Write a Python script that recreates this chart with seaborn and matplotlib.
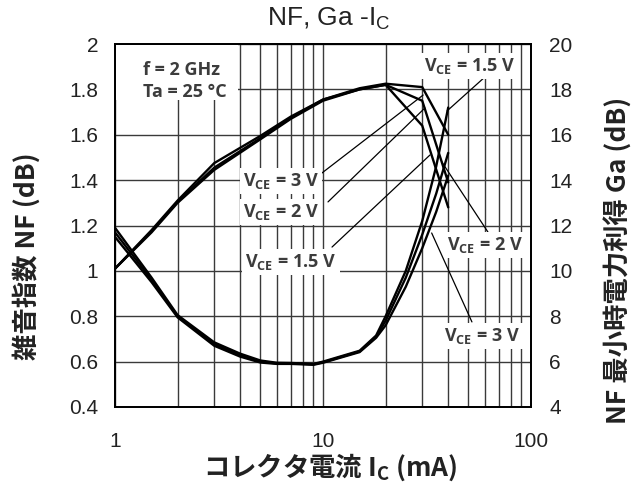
import numpy as np
import pandas as pd
import matplotlib
matplotlib.use("Agg")
import matplotlib.pyplot as plt
import seaborn as sns
from matplotlib.patches import Rectangle
from matplotlib.ticker import FixedLocator, NullFormatter, FixedFormatter

# ---------------- data ----------------
ic_ga = [1, 1.5, 2, 3, 5, 7, 10, 15, 20, 30, 40]
ga_3v = [10.1, 11.8, 13.1, 14.75, 15.95, 16.8, 17.55, 18.05, 18.25, 18.1, 16.0]
ga_2v = [10.1, 11.75, 13.05, 14.55, 15.85, 16.75, 17.55, 18.0, 18.2, 17.5, 13.9]
ga_15v = [10.1, 11.7, 13.0, 14.45, 15.8, 16.7, 17.5, 18.0, 18.2, 16.4, 12.8]

ic_nf = [1, 1.5, 2, 3, 4, 5, 6, 7, 8, 9, 10, 15, 18, 20, 25, 30, 35, 40]
nf_15v = [1.19, 0.97, 0.805, 0.685, 0.635, 0.605, 0.595, 0.594, 0.592, 0.59, 0.60, 0.648, 0.715, 0.80, 1.00, 1.22, 1.46, 1.72]
nf_2v = [1.17, 0.96, 0.80, 0.678, 0.628, 0.600, 0.592, 0.592, 0.590, 0.588, 0.597, 0.645, 0.71, 0.78, 0.97, 1.16, 1.34, 1.52]
nf_3v = [1.15, 0.95, 0.795, 0.670, 0.622, 0.596, 0.590, 0.590, 0.588, 0.586, 0.595, 0.642, 0.705, 0.76, 0.93, 1.10, 1.26, 1.42]

vce_names = ["1.5 V", "2 V", "3 V"]

x_ticks = [1, 10, 100]
x_ticklabels = ["1", "10", "100"]
nf_ticks = [0.4, 0.6, 0.8, 1.0, 1.2, 1.4, 1.6, 1.8, 2.0]
nf_ticklabels = ["0.4", "0.6", "0.8", "1", "1.2", "1.4", "1.6", "1.8", "2"]
ga_ticks = [4, 6, 8, 10, 12, 14, 16, 18, 20]
ga_ticklabels = ["4", "6", "8", "10", "12", "14", "16", "18", "20"]

title_text = r"NF, Ga -I$_\mathregular{C}$"
xlabel_text = r"コレクタ電流 I$_\mathregular{C}$ (mA)"
ylabel_left = "雑音指数 NF (dB)"
ylabel_right = "NF 最小時電力利得 Ga (dB)"
cond_text = "f = 2 GHz\nTa = 25 °C"

# label text, text position (mA, Ga), leader start (mA, Ga), leader end (mA, Ga)
labels = [
    (r"V$_\mathregular{CE}$ = 3 V", (6.28, 13.96), (9.46, 14.18), (30.3, 17.75)),
    (r"V$_\mathregular{CE}$ = 2 V", (6.28, 12.59), (10.57, 13.04), (30.9, 17.18)),
    (r"V$_\mathregular{CE}$ = 1.5 V", (7.02, 10.39), (11.05, 11.05), (32.7, 15.11)),
    (r"V$_\mathregular{CE}$ = 1.5 V", (50.9, 19.03), (60.1, 18.55), (39.5, 17.05)),
    (r"V$_\mathregular{CE}$ = 2 V", (60.1, 11.14), (62.1, 11.71), (37.2, 14.81)),
    (r"V$_\mathregular{CE}$ = 3 V", (58.1, 7.13), (52.0, 7.75), (33.3, 11.67)),
]

# ---------------- tables ----------------
ga_df = pd.concat([
    pd.DataFrame({"Ic": ic_ga, "val": v, "VCE": n})
    for v, n in zip([ga_15v, ga_2v, ga_3v], vce_names)
])
nf_df = pd.concat([
    pd.DataFrame({"Ic": ic_nf, "val": v, "VCE": n})
    for v, n in zip([nf_15v, nf_2v, nf_3v], vce_names)
])

# ---------------- figure ----------------
sns.set_theme(style="white")
plt.rcParams["font.family"] = ["Liberation Sans", "DejaVu Sans"]
plt.rcParams["mathtext.default"] = "regular"

fig = plt.figure(figsize=(6.32, 4.82), dpi=100)
ax = fig.add_axes([115 / 632, 1 - 407 / 482, 416 / 632, 363 / 482])
ax.set_xscale("log")

palette = {n: "black" for n in vce_names}
sns.lineplot(data=nf_df, x="Ic", y="val", hue="VCE", palette=palette,
             estimator=None, sort=False, legend=False, linewidth=1.7, ax=ax)

ax2 = ax.twinx()
sns.lineplot(data=ga_df, x="Ic", y="val", hue="VCE", palette=palette,
             estimator=None, sort=False, legend=False, linewidth=1.7, ax=ax2)

ax.set_xlim(1, 100)
ax.set_ylim(0.4, 2.0)
ax2.set_ylim(4, 20)

grid_kw = dict(color="#3a3a3a", linewidth=1.0)
ax.xaxis.set_major_locator(FixedLocator(x_ticks))
ax.xaxis.set_major_formatter(FixedFormatter(x_ticklabels))
ax.xaxis.set_minor_locator(FixedLocator([k * d for d in (1, 10) for k in range(2, 10)]))
ax.xaxis.set_minor_formatter(NullFormatter())
ax.set_yticks(nf_ticks)
ax.set_yticklabels(nf_ticklabels)
ax2.set_yticks(ga_ticks)
ax2.set_yticklabels(ga_ticklabels)
ax.grid(which="major", axis="both", **grid_kw)
ax.grid(which="minor", axis="x", **grid_kw)
ax.set_axisbelow(True)
ax2.grid(False)

for a in (ax, ax2):
    a.set_xlabel("")
    a.set_ylabel("")
    for s in a.spines.values():
        s.set_color("black")
        s.set_linewidth(1.3)
ax.tick_params(axis="y", which="both", length=0, pad=12, labelsize=15, colors="#222222")
ax.tick_params(axis="x", which="both", length=0, pad=18, labelsize=15, colors="#222222")
ax2.tick_params(axis="y", which="both", length=0, pad=13, labelsize=15, colors="#222222")

label_font = ["Open Sans", "DejaVu Sans"]

# white box behind condition text
ax2.add_patch(Rectangle((0.003, 0.846), 0.293, 0.152, transform=ax2.transAxes,
                        facecolor="white", edgecolor="none", zorder=3))
ax2.text(1.36, 18.36, cond_text, fontsize=13, fontweight="bold", color="#3c3c3c",
         family=label_font, ha="left", va="center", linespacing=1.25, zorder=4)

for txt, tpos, lstart, lend in labels:
    ax2.annotate("", xy=lend, xytext=lstart, xycoords="data", textcoords="data",
                 arrowprops=dict(arrowstyle="-", color="black", lw=0.9,
                                 shrinkA=0, shrinkB=0), zorder=4)
    ax2.text(tpos[0], tpos[1], txt, fontsize=13, fontweight="bold", color="#3c3c3c",
             family=label_font, ha="center", va="center", zorder=5,
             bbox=dict(boxstyle="square,pad=0.18", facecolor="white", edgecolor="none"))

fig.text(329 / 632, 1 - 19 / 482, title_text, fontsize=19, ha="center", va="center",
         color="#222222")
cjk = ["Noto Sans CJK JP", "DejaVu Sans"]
fig.text(330 / 632, 1 - 467 / 482, xlabel_text, fontsize=19, fontweight="bold",
         family=cjk, ha="center", va="center", color="#222222")
fig.text(27 / 632, 1 - 256 / 482, ylabel_left, fontsize=19, fontweight="bold",
         family=cjk, ha="center", va="center", rotation=90, color="#222222")
fig.text(619 / 632, 1 - 260 / 482, ylabel_right, fontsize=19, fontweight="bold",
         family=cjk, ha="center", va="center", rotation=90, color="#222222")

fig.savefig("out.png", dpi=100)
